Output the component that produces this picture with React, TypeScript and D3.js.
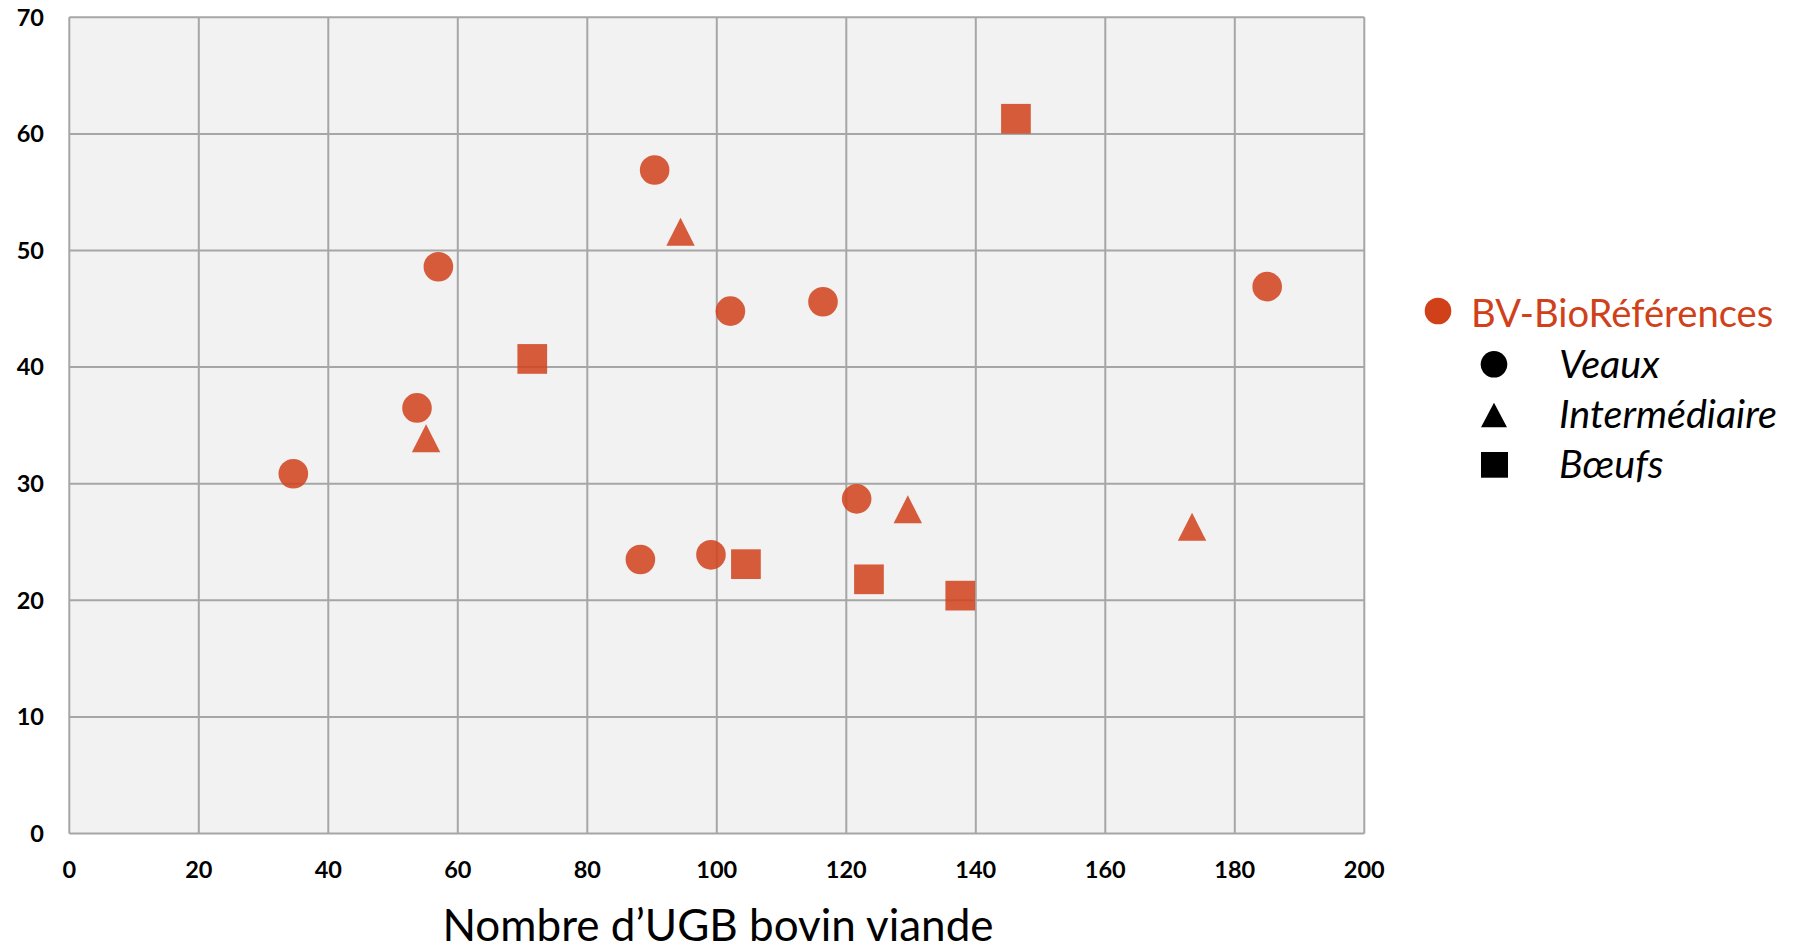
import * as d3 from "d3";

// Veaux (circles)
const veauxX = [34.6, 53.7, 57.0, 90.4, 102.1, 116.4, 88.2, 99.1, 121.6, 185.0];
const veauxY = [30.85, 36.5, 48.6, 56.9, 44.8, 45.6, 23.5, 23.9, 28.7, 46.9];
// Intermédiaire (triangles)
const interX = [55.1, 94.4, 129.5, 173.4];
const interY = [33.9, 51.6, 27.8, 26.3];
// Bœufs (squares)
const boeufsX = [71.5, 104.5, 123.5, 137.6, 146.2];
const boeufsY = [40.7, 23.1, 21.8, 20.4, 61.3];

const xTicks = [0, 20, 40, 60, 80, 100, 120, 140, 160, 180, 200];
const yTicks = [0, 10, 20, 30, 40, 50, 60, 70];

const legendTitle = "BV-BioRéférences";
const legendItems = ["Veaux", "Intermédiaire", "Bœufs"];
const xTitle = "Nombre d’UGB bovin viande";

const W = 1808;
const H = 952;
const plot = { left: 69.3, right: 1364.3, top: 17.3, bottom: 833.5 };
const red = "#D0411A";
const grid = "#A6A6A6";
const font = "Lato, 'Open Sans', sans-serif";

const x = d3.scaleLinear().domain([0, 200]).range([plot.left, plot.right]);
const y = d3.scaleLinear().domain([0, 70]).range([plot.bottom, plot.top]);

const R = 14.8;
const S = 29.7;
const TW = 28.4;
const TH = 28;

const triPath = (cx: number, cy: number, w: number, h: number) => {
  const p = d3.path();
  p.moveTo(cx, cy - h / 2);
  p.lineTo(cx + w / 2, cy + h / 2);
  p.lineTo(cx - w / 2, cy + h / 2);
  p.closePath();
  return p.toString();
};

export default function App() {
  return (
    <svg
      width={W}
      height={H}
      style={{ position: "absolute", left: 0, top: 0, background: "#fff" }}
    >
      <rect
        x={plot.left}
        y={plot.top}
        width={plot.right - plot.left}
        height={plot.bottom - plot.top}
        fill="#F2F2F2"
      />
      {xTicks.map((t) => (
        <line key={"gx" + t} x1={x(t)} x2={x(t)} y1={plot.top} y2={plot.bottom} stroke={grid} strokeWidth={2} />
      ))}
      {yTicks.map((t) => (
        <line key={"gy" + t} x1={plot.left} x2={plot.right} y1={y(t)} y2={y(t)} stroke={grid} strokeWidth={2} />
      ))}

      {yTicks.map((t) => (
        <text
          key={"ly" + t}
          x={44}
          y={y(t)}
          dy="0.35em"
          textAnchor="end"
          fontFamily={font}
          fontWeight="bold"
          fontSize={23.5}
          fill="#000"
        >
          {t}
        </text>
      ))}
      {xTicks.map((t) => (
        <text
          key={"lx" + t}
          x={x(t)}
          y={870}
          dy="0.35em"
          textAnchor="middle"
          fontFamily={font}
          fontWeight="bold"
          fontSize={23.5}
          fill="#000"
        >
          {t}
        </text>
      ))}

      <text x={718} y={941} textAnchor="middle" fontFamily={font} fontSize={44} fill="#000">
        {xTitle}
      </text>

      <g fill={red} fillOpacity={0.85}>
        {veauxX.map((v, i) => (
          <circle key={"c" + i} cx={x(v)} cy={y(veauxY[i])} r={R} />
        ))}
        {interX.map((v, i) => (
          <path key={"t" + i} d={triPath(x(v), y(interY[i]), TW, TH)} />
        ))}
        {boeufsX.map((v, i) => (
          <rect key={"s" + i} x={x(v) - S / 2} y={y(boeufsY[i]) - S / 2} width={S} height={S} />
        ))}
      </g>

      {/* legend */}
      <circle cx={1438} cy={311} r={13.3} fill={red} />
      <text x={1471} y={326.7} fontFamily={font} fontSize={38.2} fill={red}>
        {legendTitle}
      </text>
      <circle cx={1494} cy={364.3} r={13.3} fill="#000" />
      <path d={triPath(1494, 415, 26, 24.6)} fill="#000" />
      <rect x={1481} y={452} width={27} height={25.7} fill="#000" />
      {legendItems.map((s, i) => (
        <text
          key={s}
          x={1559}
          y={378 + i * 50}
          fontFamily={font}
          fontStyle="italic"
          fontSize={39.5}
          fill="#000"
        >
          {s}
        </text>
      ))}
    </svg>
  );
}
